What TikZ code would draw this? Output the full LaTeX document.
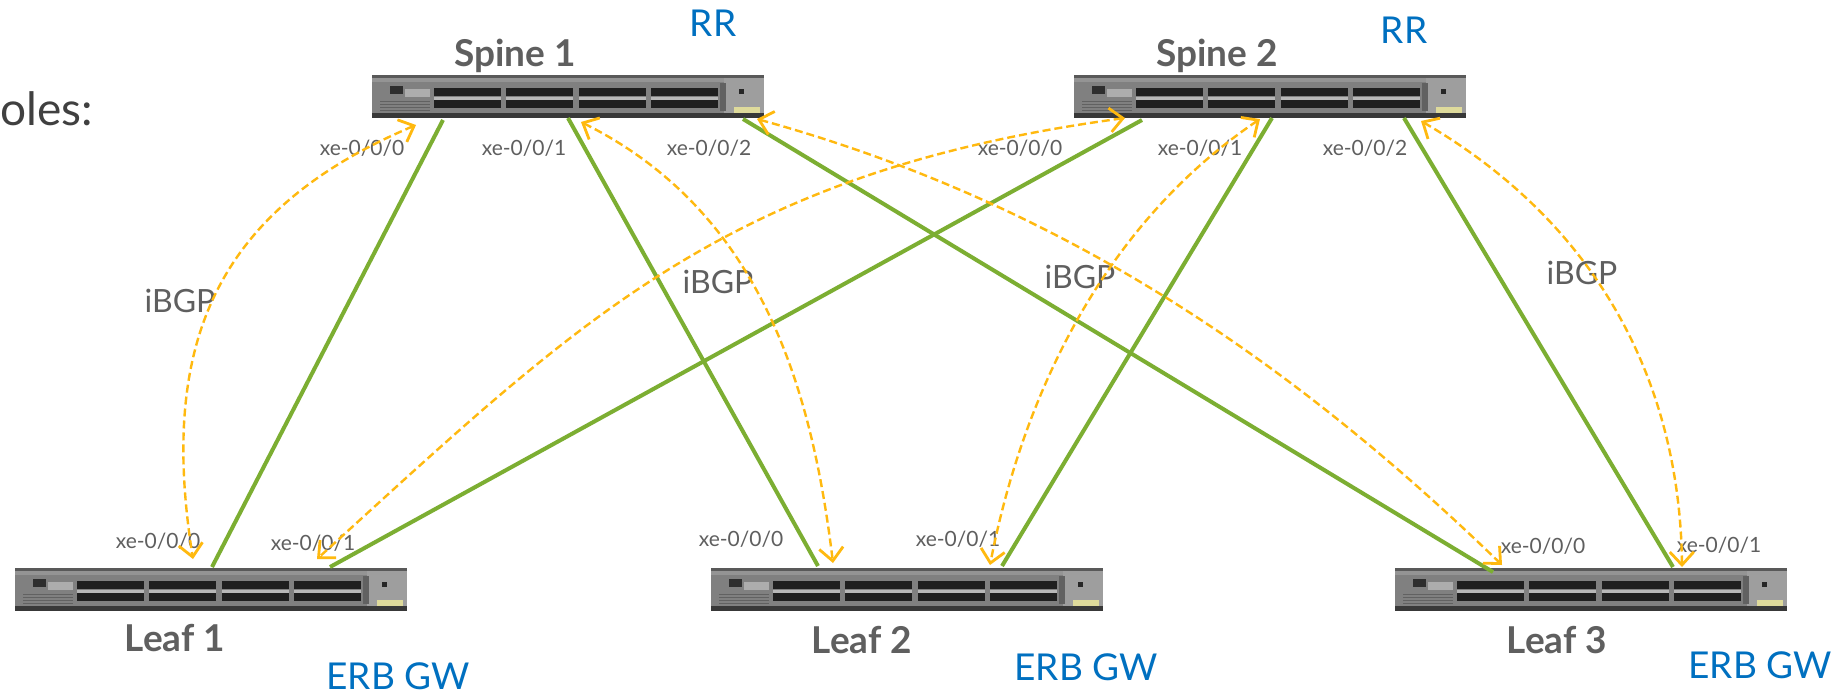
\documentclass[tikz,border=0pt]{standalone}
\usepackage{fontspec}
\setmainfont{Lato}
\usetikzlibrary{arrows.meta,positioning}
\definecolor{txt}{HTML}{5F5F5F}
\definecolor{blu}{HTML}{0070C0}
\definecolor{grn}{HTML}{7CAE32}
\definecolor{org}{HTML}{FFB90F}
\tikzset{
  x=1pt,y=-1pt,
  switchbox/.style={rectangle,draw=none,inner sep=0pt,minimum width=392pt,minimum height=43pt,fill=black!50},
  uplink/.style={draw=grn,line width=4pt},
  session/.style={draw=org,line width=2.4pt,dash pattern=on 8pt off 4pt,
    {Straight Barb[length=13pt,width=24pt,line width=2.8pt]}-{Straight Barb[length=13pt,width=24pt,line width=2.8pt]}},
  swname/.style={font=\fontsize{37}{37}\selectfont\bfseries,text=txt,inner sep=0pt},
  role/.style={font=\fontsize{37}{37}\selectfont,text=blu,inner sep=0pt},
  bgp/.style={font=\fontsize{32}{32}\selectfont,text=txt,inner sep=0pt},
  port/.style={font=\fontsize{21}{21}\selectfont,text=txt,inner sep=0pt},
}
\newcommand\switchat[3]{%
  \node[switchbox,anchor=north west] (#1) at (#2,#3) {};
  \begin{scope}[shift={(#2,#3)}]
    \fill[black!65] (0,0) rectangle (392,3);
    \fill[black!42] (0,3) rectangle (392,7);
    \fill[black!78] (0,38) rectangle (392,43);
    \fill[black!38] (352,3) rectangle (392,38);
    \fill[black!82] (18,11) rectangle (31,19);
    \fill[black!32] (33,14) rectangle (58,22);
    \foreach \yy in {26,29,32,35} \draw[black!62,line width=1pt] (8,\yy) -- (58,\yy);
    \foreach \xx in {62,134,207,279} {
      \fill[black!88] (\xx,13) rectangle ++(67,8);
      \fill[black!88] (\xx,25) rectangle ++(67,8);
      \fill[black!28] (\xx,21.5) rectangle ++(67,3);
    }
    \fill[black!85] (367,14) rectangle (372,19);
    \fill[olive!30] (362,32) rectangle (388,38);
    \fill[black!62] (348,8) rectangle (354,36);
  \end{scope}
}
\begin{document}
\begin{tikzpicture}
\useasboundingbox (0,0) rectangle (1838,694);
\fill[white] (0,0) rectangle (1838,694);
\switchat{s1}{372}{75}
\switchat{s2}{1074}{75}
\switchat{l1}{15}{568}
\switchat{l2}{711}{568}
\switchat{l3}{1395}{568}
\node[swname] (s1n) at (515,56) {Spine 1};
\node[swname] (s2n) at (1217,56) {Spine 2};
\node[swname] (l1n) at (175,638) {Leaf 1};
\node[swname] (l2n) at (862,640) {Leaf 2};
\node[swname] (l3n) at (1557,640) {Leaf 3};
\node[role] (r1) at (713,23) {RR};
\node[role] (r2) at (1404,30) {RR};
\node[role] (e1) at (398,676) {ERB GW};
\node[role] (e2) at (1086,667) {ERB GW};
\node[role] (e3) at (1760,665) {ERB GW};
\node[font=\fontsize{46}{46}\selectfont,text=black!75,anchor=base west,inner sep=0pt] (ol) at (0,125) {oles:};
\node[bgp] (b1) at (180,301) {iBGP};
\node[bgp] (b2) at (718,282) {iBGP};
\node[bgp] (b3) at (1080,277) {iBGP};
\node[bgp] (b4) at (1582,273) {iBGP};
\node[port] (p1) at (362,148) {xe-0/0/0};
\node[port] (p2) at (524,148) {xe-0/0/1};
\node[port] (p3) at (709,148) {xe-0/0/2};
\node[port] (p4) at (1020,148) {xe-0/0/0};
\node[port] (p5) at (1200,148) {xe-0/0/1};
\node[port] (p6) at (1365,148) {xe-0/0/2};
\node[port] (p7) at (158,541) {xe-0/0/0};
\node[port] (p8) at (313,543) {xe-0/0/1};
\node[port] (p9) at (741,539) {xe-0/0/0};
\node[port] (p10) at (958,539) {xe-0/0/1};
\node[port] (p11) at (1543,546) {xe-0/0/0};
\node[port] (p12) at (1719,545) {xe-0/0/1};
% link ends
\coordinate (a1) at (443,120); \coordinate (a2) at (212,567);
\coordinate (a3) at (568,118); \coordinate (a4) at (818,566);
\coordinate (a5) at (743,119); \coordinate (a6) at (1493,572);
\coordinate (a7) at (1142,120); \coordinate (a8) at (330,567);
\coordinate (a9) at (1272,118); \coordinate (a10) at (1002,566);
\coordinate (a11) at (1404,118); \coordinate (a12) at (1673,567);
\draw[uplink] (a1) -- (a2);
\draw[uplink] (a3) -- (a4);
\draw[uplink] (a5) -- (a6);
\draw[uplink] (a7) -- (a8);
\draw[uplink] (a9) -- (a10);
\draw[uplink] (a11) -- (a12);
% session ends
\coordinate (c1) at (416,125); \coordinate (c2) at (193,559);
\coordinate (c3) at (581,122); \coordinate (c4) at (833,563);
\coordinate (c5) at (757,119); \coordinate (c6) at (1502,565);
\coordinate (c7) at (1125,118); \coordinate (c8) at (317,559);
\coordinate (c9) at (1260,119); \coordinate (c10) at (990,565);
\coordinate (c11) at (1421,121); \coordinate (c12) at (1682,567);
\draw[session] (c1) .. controls (210,212) and (160,350) .. (c2);
\draw[session] (c3) .. controls (762,212) and (812,390) .. (c4);
\draw[session] (c5) .. controls (1050,200) and (1280,350) .. (c6);
\draw[session] (c7) .. controls (725,172) and (580,320) .. (c8);
\draw[session] (c9) .. controls (1110,220) and (1025,385) .. (c10);
\draw[session] (c11) .. controls (1600,225) and (1680,385) .. (c12);
\end{tikzpicture}
\end{document}
